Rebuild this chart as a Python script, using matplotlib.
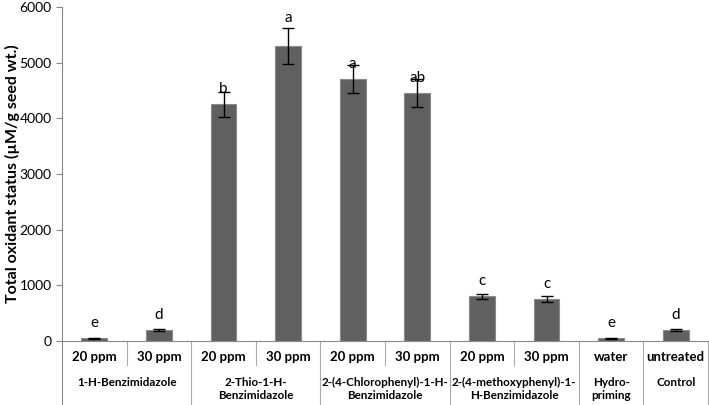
import matplotlib
matplotlib.use('Agg')
import matplotlib.pyplot as plt
from matplotlib.lines import Line2D

# values
treatments = ['20 ppm', '30 ppm', '20 ppm', '30 ppm', '20 ppm', '30 ppm',
              '20 ppm', '30 ppm', 'water', 'untreated']
groups = ['1-H-Benzimidazole', '2-Thio-1-H-\nBenzimidazole',
          '2-(4-Chlorophenyl)-1-H-\nBenzimidazole', '2-(4-methoxyphenyl)-1-\nH-Benzimidazole',
          'Hydro-\npriming', 'Control']
group_sizes = [2, 2, 2, 2, 1, 1]
tos_values = [50, 200, 4250, 5300, 4700, 4450, 800, 750, 50, 200]
tos_errors = [10, 15, 220, 320, 250, 250, 45, 50, 10, 15]
letters = ['e', 'd', 'b', 'a', 'a', 'ab', 'c', 'c', 'e', 'd']

plt.rcParams['font.family'] = ['Lato', 'DejaVu Sans']

fig = plt.figure(figsize=(7.09, 4.05), dpi=100)
ax = fig.add_axes([62 / 709, 64 / 405, 646 / 709, 334 / 405])

x = list(range(len(tos_values)))
ax.bar(x, tos_values, width=0.4, color='#606060', edgecolor='#8a8a8a', linewidth=0.8,
       yerr=tos_errors, error_kw=dict(ecolor='black', elinewidth=1, capsize=4, capthick=1))

for i in x:
    # Excel put the letter over the error bar top for the tallest bar
    off = 28 if tos_errors[i] > 300 else 15
    ax.annotate(letters[i], (i, tos_values[i]), xytext=(0, off), textcoords='offset pixels',
                ha='center', va='center', fontsize=11)

ax.set_xlim(-0.5, len(tos_values) - 0.5)
ax.set_ylim(0, 6000)
ax.set_yticks(range(0, 6001, 1000))
ax.tick_params(axis='y', labelsize=10, length=4, color='#888888')
ax.set_xticks([])
for s in ['top', 'right']:
    ax.spines[s].set_visible(False)
for s in ['left', 'bottom']:
    ax.spines[s].set_color('#888888')
ax.set_ylabel('Total oxidant status (\u00b5M/g seed wt.)', fontsize=11.5, fontweight='bold')
ax.yaxis.set_label_coords(-42 / 646, 0.5)

trans = ax.get_xaxis_transform()
ax_h = 334.0
y_low = -16 / ax_h
y_short = -24 / ax_h
y_bottom = -64 / ax_h
y_group = -48 / ax_h

# first level labels
for i in x:
    ax.text(i, y_low, treatments[i], transform=trans, ha='center', va='center',
            fontsize=9.5, fontweight='bold')

# separators and group labels
start = 0
ax.add_line(Line2D([-0.5, -0.5], [0, y_bottom], transform=trans, color='#888888',
                   lw=0.8, clip_on=False))
for g, n in zip(groups, group_sizes):
    for k in range(1, n):
        ax.add_line(Line2D([start + k - 0.5] * 2, [0, y_short], transform=trans,
                           color='#aaaaaa', lw=0.8, clip_on=False))
    end = start + n
    ax.add_line(Line2D([end - 0.5] * 2, [0, y_bottom], transform=trans, color='#aaaaaa',
                       lw=0.8, clip_on=False))
    ty = y_group + (0 if '\n' in g else 7 / ax_h)
    ax.text((start + end - 1) / 2, ty, g, transform=trans, ha='center', va='center',
            fontsize=8.4, fontweight='bold', linespacing=1.25)
    start = end

fig.savefig('out.png', dpi=100)
